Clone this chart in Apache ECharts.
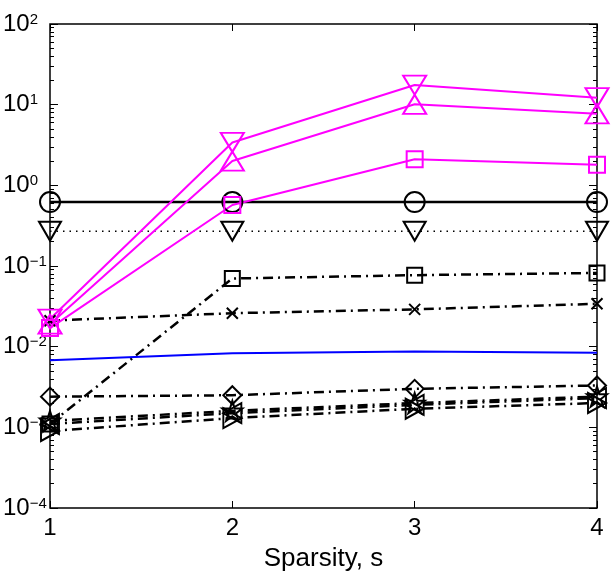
<!DOCTYPE html>
<html>
<head>
<meta charset="utf-8">
<script src="https://cdn.jsdelivr.net/npm/echarts@6/dist/echarts.min.js"></script>
<style>
html,body{margin:0;padding:0;background:#fff;}
#c{width:614px;height:582px;}
</style>
</head>
<body>
<div id="c"></div>
<script>
// ---- data ----
const sparsity = [1, 2, 3, 4];
const xTicks = [1, 2, 3, 4];
const yDecadeExps = [-4, -3, -2, -1, 0, 1, 2];
const xAxisTitle = 'Sparsity, s';

const circleSolid     = [0.62, 0.62, 0.62, 0.62];
const triDownDotted   = [0.27, 0.27, 0.27, 0.27];
const squareDashDot   = [0.0011, 0.070, 0.077, 0.082];
const crossDashDot    = [0.021, 0.026, 0.029, 0.034];
const blueSolid       = [0.0068, 0.0083, 0.0087, 0.0084];
const diamondDashDot  = [0.0024, 0.0025, 0.0030, 0.0033];
const starDashDot     = [0.0012, 0.0016, 0.0020, 0.0024];
const triLeftDashDot  = [0.0011, 0.0015, 0.0019, 0.0023];
const triRightDashDot = [0.0009, 0.0013, 0.0017, 0.0020];
const magTriDown      = [0.022, 3.4, 17.5, 12.2];
const magTriUp        = [0.019, 2.0, 10.1, 7.7];
const magSquare       = [0.017, 0.57, 2.1, 1.8];

// ---- helpers ----
const decadeValues = yDecadeExps.map(e => Math.pow(10, e));
const minorValues = [];
for (let e = yDecadeExps[0]; e < yDecadeExps[yDecadeExps.length - 1]; e++) {
  for (let m = 2; m <= 9; m++) minorValues.push(m * Math.pow(10, e));
}
const pts = arr => sparsity.map((x, i) => [x, arr[i]]);

const SYM = {
  triDown: 'path://M0,0 L10,0 L5,8.66 Z',
  triUp: 'path://M5,0 L10,8.66 L0,8.66 Z',
  triLeft: 'path://M8.66,0 L8.66,10 L0,5 Z',
  triRight: 'path://M0,0 L8.66,5 L0,10 Z',
  cross: 'path://M0,0 L10,10 M10,0 L0,10',
  star: 'path://M50,0 L61.8,36.2 L100,36.2 L69.1,58.8 L80.9,95.1 L50,72.7 L19.1,95.1 L30.9,58.8 L0,36.2 L38.2,36.2 Z'
};
const dashDot = [10, 5, 2, 5];
const dotted = [1.5, 5];

function mk(name, data, color, lineType, symbol, size, width) {
  return {
    name: name,
    type: 'line',
    data: pts(data),
    symbol: symbol || 'none',
    symbolSize: size || 10,
    showSymbol: !!symbol,
    lineStyle: { color: color, width: width || 2, type: lineType },
    itemStyle: { color: 'rgba(0,0,0,0)', borderColor: color, borderWidth: 2 },
    emphasis: { disabled: true },
    clip: false,
    z: 3
  };
}

const yLabelFmt = v => {
  const e = Math.round(Math.log10(v));
  const s = e < 0 ? '\u2212' + Math.abs(e) : String(e);
  return '{b|10}{s|' + s + '}';
};

const chart = echarts.init(document.getElementById('c'), null, { renderer: 'canvas' });
const baseLog = {
  type: 'log', logBase: 10, min: 1e-4, max: 100, gridIndex: 0,
  splitLine: { show: false }, axisLine: { show: false }
};
chart.setOption({
  animation: false,
  backgroundColor: '#fff',
  grid: { left: 49, right: 17, top: 24, bottom: 74, show: true, borderColor: '#000', borderWidth: 1.5, backgroundColor: 'transparent' },
  xAxis: [
    {
      type: 'value', min: 1, max: 4, interval: 1, position: 'bottom',
      name: xAxisTitle, nameLocation: 'middle', nameGap: 38,
      nameTextStyle: { fontFamily: 'Liberation Sans', fontSize: 26, color: '#000' },
      axisLine: { show: false },
      axisTick: { inside: true, length: 7, lineStyle: { color: '#000', width: 1 }, customValues: xTicks },
      axisLabel: { customValues: xTicks, fontFamily: 'Liberation Sans', fontSize: 24, color: '#000', margin: 8 },
      splitLine: { show: false }
    },
    {
      type: 'value', min: 1, max: 4, interval: 1, position: 'top',
      axisLine: { show: false },
      axisTick: { inside: true, length: 7, lineStyle: { color: '#000', width: 1 }, customValues: xTicks },
      axisLabel: { show: false },
      splitLine: { show: false }
    }
  ],
  yAxis: [
    Object.assign({}, baseLog, {
      position: 'left',
      axisTick: { inside: true, length: 8, lineStyle: { color: '#000', width: 1 }, customValues: decadeValues },
      axisLabel: {
        customValues: decadeValues, formatter: yLabelFmt, align: 'left', margin: 47,
        rich: {
          b: { fontFamily: 'Liberation Sans', fontSize: 24, lineHeight: 24, color: '#000' },
          s: { fontFamily: 'Liberation Sans', fontSize: 15, lineHeight: 15, color: '#000', verticalAlign: 'top' }
        }
      }
    }),
    Object.assign({}, baseLog, {
      position: 'left',
      axisTick: { inside: true, length: 4, lineStyle: { color: '#000', width: 1 }, customValues: minorValues },
      axisLabel: { show: false }
    }),
    Object.assign({}, baseLog, {
      position: 'right',
      axisTick: { inside: true, length: 8, lineStyle: { color: '#000', width: 1 }, customValues: decadeValues },
      axisLabel: { show: false }
    }),
    Object.assign({}, baseLog, {
      position: 'right',
      axisTick: { inside: true, length: 4, lineStyle: { color: '#000', width: 1 }, customValues: minorValues },
      axisLabel: { show: false }
    })
  ],
  series: [
    mk('circle', circleSolid, '#000', 'solid', 'circle', 20, 2.5),
    mk('triDown', triDownDotted, '#000', dotted, SYM.triDown, [22, 19], 1.5),
    mk('square', squareDashDot, '#000', dashDot, 'rect', 15, 2.5),
    mk('cross', crossDashDot, '#000', dashDot, SYM.cross, 11, 2.5),
    mk('blue', blueSolid, '#0000ff', 'solid', null, 0, 2),
    mk('diamond', diamondDashDot, '#000', dashDot, 'diamond', 18, 2.5),
    mk('star', starDashDot, '#000', dashDot, SYM.star, 20, 2.5),
    mk('triLeft', triLeftDashDot, '#000', dashDot, SYM.triLeft, [18, 20], 2.5),
    mk('triRight', triRightDashDot, '#000', dashDot, SYM.triRight, [18, 20], 2.5),
    mk('magSquare', magSquare, '#ff00ff', 'solid', 'rect', 16, 2),
    mk('magTriUp', magTriUp, '#ff00ff', 'solid', SYM.triUp, [23, 19], 2),
    mk('magTriDown', magTriDown, '#ff00ff', 'solid', SYM.triDown, [23, 19], 2)
  ]
});
</script>
</body>
</html>
